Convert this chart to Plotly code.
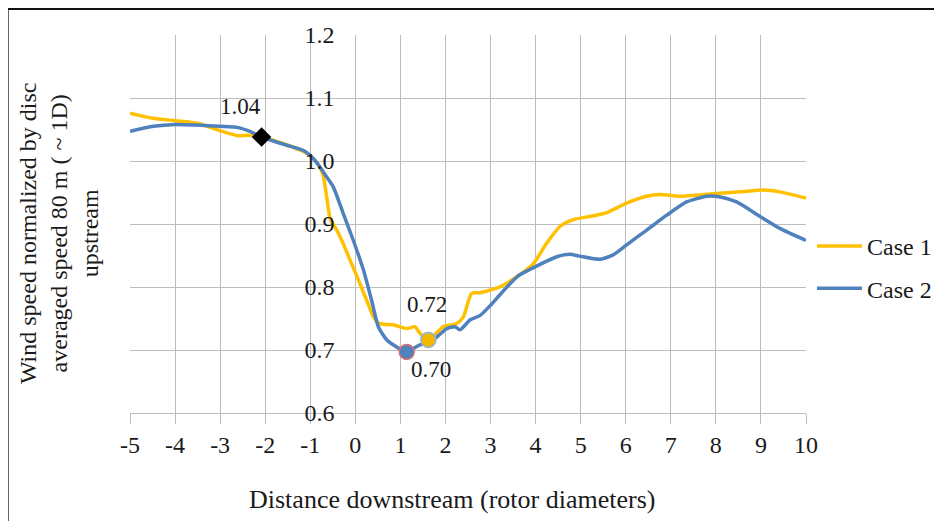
import plotly.graph_objects as go

# ---------------- data ----------------
case1_x = [-5, -4.5, -4, -3.5, -3, -2.6, -2.4, -2.08, -1.5, -1.15, -0.95, -0.78, -0.71, -0.64,
           -0.56, -0.41, -0.27, -0.12, 0.07, 0.25, 0.40, 0.51, 0.62, 0.84, 1.14, 1.32, 1.43, 1.62,
           1.95, 2.25, 2.40, 2.58, 2.77, 3.2, 3.6, 3.95, 4.24, 4.54, 4.84, 5.28, 5.58, 6.02,
           6.46, 6.76, 7.21, 7.94, 8.54, 9.05, 9.42, 10]
case1_y = [1.076, 1.068, 1.064, 1.060, 1.048, 1.040, 1.041, 1.038, 1.025, 1.015, 1.005, 0.989, 0.976, 0.945,
           0.909, 0.890, 0.869, 0.843, 0.811, 0.779, 0.753, 0.743, 0.741, 0.740, 0.734, 0.737, 0.727, 0.716,
           0.737, 0.742, 0.753, 0.790, 0.791, 0.800, 0.817, 0.837, 0.869, 0.896, 0.907, 0.913, 0.918, 0.933,
           0.944, 0.947, 0.944, 0.948, 0.951, 0.954, 0.951, 0.941]

case2_x = [-5, -4.48, -4, -3.52, -3, -2.6, -2.34, -2.08, -1.52, -1.16, -0.95, -0.78, -0.64, -0.49,
           -0.27, -0.05, 0.18, 0.36, 0.51, 0.70, 1.0, 1.14, 1.43, 1.73, 2.03, 2.21, 2.32, 2.55, 2.77,
           3.0, 3.2, 3.6, 4.1, 4.47, 4.76, 4.98, 5.43, 5.72, 6.02, 6.46, 6.91, 7.35, 7.80, 8.10,
           8.46, 8.98, 9.42, 10]
case2_y = [1.047, 1.055, 1.058, 1.057, 1.055, 1.053, 1.047, 1.038, 1.025, 1.017, 1.005, 0.990, 0.975, 0.959,
           0.917, 0.875, 0.827, 0.779, 0.737, 0.716, 0.701, 0.697, 0.708, 0.716, 0.734, 0.737, 0.732, 0.748, 0.755,
           0.771, 0.787, 0.817, 0.836, 0.848, 0.852, 0.849, 0.844, 0.851, 0.867, 0.890, 0.914, 0.935, 0.944, 0.943,
           0.935, 0.912, 0.893, 0.874]

series_names = ["Case 1", "Case 2"]

x_tickvals = list(range(-5, 11))
x_ticktext = ["-5", "-4", "-3", "-2", "-1", "0", "1", "2", "3", "4", "5", "6", "7", "8", "9", "10"]
y_tickvals = [0.6, 0.7, 0.8, 0.9, 1.0, 1.1, 1.2]
y_ticktext = ["0.6", "0.7", "0.8", "0.9", "1.0", "1.1", "1.2"]

diamond_pt = (-2.08, 1.038)
case1_min = (1.62, 0.716)
case2_min = (1.14, 0.697)

labels = [("1.04", -2.54, 1.087), ("0.72", 1.59, 0.772), ("0.70", 1.68, 0.669)]

x_title = "Distance downstream (rotor diameters)"
y_title = "Wind speed normalized by disc<br>averaged speed 80 m ( ~ 1D)<br>upstream"

# ---------------- style ----------------
YELLOW = "#FFC000"
BLUE = "#4F81BD"
GRID = "#BDBDBD"
FONT = "Liberation Serif, Times New Roman, serif"
TXT = "#1a1a1a"

fig = go.Figure()
fig.add_trace(go.Scatter(x=case1_x, y=case1_y, mode="lines", name=series_names[0],
                         legendgroup="a", line=dict(color=YELLOW, width=3.5, shape="spline", smoothing=0.6)))
fig.add_trace(go.Scatter(x=case2_x, y=case2_y, mode="lines", name=series_names[1],
                         legendgroup="b", line=dict(color=BLUE, width=3.5, shape="spline", smoothing=0.6)))

fig.add_trace(go.Scatter(x=[diamond_pt[0]], y=[diamond_pt[1]], mode="markers", showlegend=False,
                         marker=dict(symbol="diamond", size=15, color="black")))
fig.add_trace(go.Scatter(x=[case1_min[0]], y=[case1_min[1]], mode="markers", showlegend=False,
                         marker=dict(symbol="circle", size=15, color="#F2B800",
                                     line=dict(color="#8DB4E2", width=1.5))))
fig.add_trace(go.Scatter(x=[case2_min[0]], y=[case2_min[1]], mode="markers", showlegend=False,
                         marker=dict(symbol="circle", size=15, color=BLUE,
                                     line=dict(color="#E07070", width=1.5))))

for t, lx, ly in labels:
    fig.add_annotation(x=lx, y=ly, text=t, showarrow=False, xanchor="center", yanchor="middle",
                       font=dict(family=FONT, size=23, color=TXT))

fig.add_annotation(xref="paper", yref="paper", x=0.476, y=-0.23, text=x_title, showarrow=False,
                   xanchor="center", yanchor="middle", font=dict(family=FONT, size=26, color=TXT))
fig.add_annotation(xref="paper", yref="paper", x=-0.105, y=0.476, text=y_title, showarrow=False,
                   textangle=-90, xanchor="center", yanchor="middle",
                   font=dict(family=FONT, size=24, color=TXT))

# outer frame
fig.add_shape(type="rect", xref="paper", yref="paper", x0=-0.181, x1=1.3, y0=-0.5, y1=1.0688,
              line=dict(color="#111111", width=2), layer="above")

fig.update_layout(
    width=934, height=513,
    margin=dict(l=122, r=136, t=27, b=108, autoexpand=False),
    paper_bgcolor="white", plot_bgcolor="white",
    font=dict(family=FONT, size=24, color=TXT),
    showlegend=True,
    legend=dict(xref="container", x=0.8608, y=0.50, xanchor="left", yanchor="top", tracegroupgap=8,
                font=dict(family=FONT, size=24, color=TXT), bgcolor="rgba(0,0,0,0)",
                itemwidth=45),
    xaxis=dict(range=[-5, 10], tickvals=x_tickvals, ticktext=x_ticktext, showgrid=True,
               gridcolor=GRID, gridwidth=1.3,
               zeroline=False, showline=True, linecolor=GRID, linewidth=1.3,
               ticks="outside", ticklen=10, tickcolor=GRID, tickwidth=1.3,
               tickfont=dict(family=FONT, size=24, color=TXT)),
    yaxis=dict(range=[0.6, 1.2], tickvals=y_tickvals, ticktext=y_ticktext, showgrid=True,
               gridcolor=GRID, gridwidth=1.3, zeroline=False, showline=False,
               anchor="free", position=5 / 15,
               ticks="outside", ticklen=16, tickcolor="rgba(0,0,0,0)",
               tickfont=dict(family=FONT, size=24, color=TXT)),
)

fig.write_html("out.html")
